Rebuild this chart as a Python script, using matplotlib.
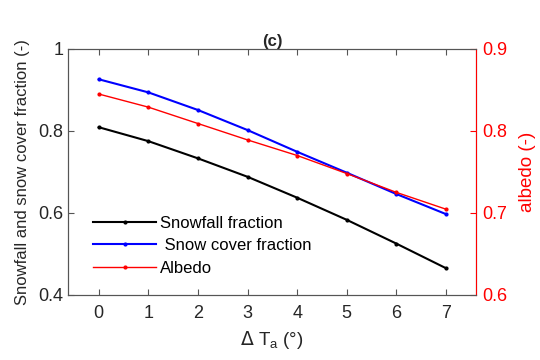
import matplotlib
matplotlib.use("Agg")
import matplotlib.pyplot as plt

dT = [0, 1, 2, 3, 4, 5, 6, 7]
snowfall = [0.809, 0.775, 0.733, 0.688, 0.637, 0.583, 0.525, 0.465]
snowcover = [0.926, 0.894, 0.851, 0.802, 0.749, 0.698, 0.646, 0.597]
albedo = [0.845, 0.829, 0.809, 0.789, 0.770, 0.748, 0.725, 0.7045]

plt.rcParams['font.family'] = ['Liberation Sans', 'DejaVu Sans']

fig = plt.figure(figsize=(5.4, 3.6), dpi=100)
ax = fig.add_axes([0.126, 0.181, 0.755, 0.683])
ax2 = ax.twinx()

grey = '#262626'
l1, = ax.plot(dT, snowfall, color='black', lw=1.5, marker='.', ms=4)
l2, = ax.plot(dT, snowcover, color='blue', lw=1.5, marker='.', ms=4)
l3, = ax2.plot(dT, albedo, color='red', lw=1.0, marker='.', ms=4)

ax.set_xlim(-0.62, 7.6)
ax.set_ylim(0.4, 1.0)
ax2.set_ylim(0.6, 0.9)
ax.set_xticks(dT)
ax.set_yticks([0.4, 0.6, 0.8, 1.0])
ax.set_yticklabels(['0.4', '0.6', '0.8', '1'])
ax2.set_yticks([0.6, 0.7, 0.8, 0.9])

for a in (ax, ax2):
    for s in a.spines.values():
        s.set_linewidth(0.8)
        s.set_color('#555555')
ax2.spines['right'].set_color('red')
ax.tick_params(axis='both', direction='in', length=4, width=0.8, colors='#555555',
               labelcolor=grey, labelsize=13, top=True)
ax.tick_params(axis='x', pad=7)
ax2.tick_params(axis='y', direction='in', length=4, width=0.8, colors='red',
                labelcolor='red', labelsize=13, pad=5)

ax.set_xlabel('$\\Delta$ T$_\\mathregular{a}$ (°)', fontsize=13.5, color=grey, labelpad=5)
ax.set_ylabel('Snowfall and snow cover fraction (-)', fontsize=12, color=grey, labelpad=6)
ax2.set_ylabel('albedo (-)', fontsize=13.5, color='red', labelpad=8)
ax.set_title('(c)', fontsize=12, fontweight='bold', color=grey, pad=0)

ax.legend([l1, l2, l3], ['Snowfall fraction', ' Snow cover fraction', 'Albedo'],
          loc='lower left', bbox_to_anchor=(0.02, 0.01), frameon=False,
          fontsize=12, handlelength=3.8, handletextpad=0.2, labelspacing=0.45,
          borderaxespad=0.6)

fig.savefig('out.png', dpi=100)
